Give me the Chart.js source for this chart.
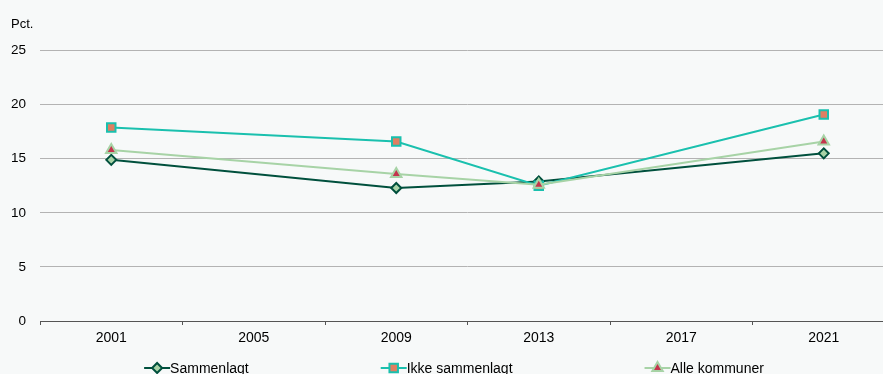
<!DOCTYPE html>
<html lang="no">
<head>
    <meta charset="UTF-8">
    <title>Sammenlagte kommuner</title>
    <script src="https://cdn.jsdelivr.net/npm/chart.js"></script>
    <style>
        html, body { margin: 0; padding: 0; background: #f7f9f9; overflow: hidden; }
        canvas { display: block; }
    </style>
</head>
<body>
<canvas id="lineChart" width="895" height="374"></canvas>
<script>
const years = ['2001', '2005', '2009', '2013', '2017', '2021'];
const sammenlagt = [14.9, null, 12.3, 12.9, null, 15.5];
const ikkeSammenlagt = [17.9, null, 16.6, 12.5, null, 19.1];
const alleKommuner = [15.8, null, 13.6, 12.6, null, 16.6];
const seriesNames = ['Sammenlagt', 'Ikke sammenlagt', 'Alle kommuner'];
const yTicks = [0, 5, 10, 15, 20, 25];

const FONT = "'Liberation Sans', Arial, sans-serif";

// legend drawn by hand: line + marker, wide gaps like the original
const legendPlugin = {
    id: 'wideLegend',
    afterDraw(chart) {
        const ctx = chart.ctx;
        const gap = 132, symW = 26, y = 368;
        ctx.save();
        ctx.font = '14px ' + FONT;
        const widths = chart.data.datasets.map(ds => symW + ctx.measureText(ds.label).width);
        const total = widths.reduce((a, b) => a + b, 0) + gap * (widths.length - 1);
        let x = 454 - total / 2;
        chart.data.datasets.forEach((ds, i) => {
            ctx.strokeStyle = ds.borderColor;
            ctx.lineWidth = 2;
            ctx.beginPath();
            ctx.moveTo(x, y);
            ctx.lineTo(x + symW, y);
            ctx.stroke();
            ctx.fillStyle = ds.pointBackgroundColor;
            ctx.strokeStyle = ds.pointBorderColor;
            ctx.lineWidth = ds.pointBorderWidth;
            Chart.helpers.drawPoint(ctx, {
                pointStyle: ds.pointStyle,
                radius: ds.pointRadius,
                borderWidth: ds.pointBorderWidth,
                rotation: 0
            }, x + symW / 2, y);
            ctx.fillStyle = '#000';
            ctx.textAlign = 'left';
            ctx.textBaseline = 'middle';
            ctx.fillText(ds.label, x + symW, y + 1);
            x += widths[i] + gap;
        });
        ctx.restore();
    }
};

const ctx = document.getElementById('lineChart').getContext('2d');
new Chart(ctx, {
    type: 'line',
    data: {
        labels: years,
        datasets: [
            {
                label: seriesNames[0],
                data: sammenlagt,
                borderColor: '#00503d',
                borderWidth: 2,
                pointStyle: 'rectRot',
                pointRadius: 5,
                pointBorderWidth: 2,
                pointBorderColor: '#00503d',
                pointBackgroundColor: '#a7d3a6',
                spanGaps: true,
                order: 3
            },
            {
                label: seriesNames[1],
                data: ikkeSammenlagt,
                borderColor: '#1ac0ae',
                borderWidth: 2,
                pointStyle: 'rect',
                pointRadius: 6,
                pointBorderWidth: 2,
                pointBorderColor: '#1ac0ae',
                pointBackgroundColor: '#e07f62',
                spanGaps: true,
                order: 2
            },
            {
                label: seriesNames[2],
                data: alleKommuner,
                borderColor: '#a7d3a6',
                borderWidth: 2,
                pointStyle: 'triangle',
                pointRadius: 6,
                pointBorderWidth: 2,
                pointBorderColor: '#a7d3a6',
                pointBackgroundColor: '#c4344d',
                spanGaps: true,
                order: 1
            }
        ]
    },
    options: {
        responsive: false,
        animation: false,
        tension: 0,
        layout: { autoPadding: false, padding: { left: 11, right: 0, top: 0, bottom: 26 } },
        plugins: {
            legend: { display: false },
            tooltip: { enabled: false },
            title: {
                display: true,
                text: 'Pct.',
                align: 'start',
                color: '#000',
                font: { family: FONT, size: 13, weight: 'normal' },
                padding: { top: 17, bottom: 18 }
            }
        },
        scales: {
            x: {
                type: 'category',
                offset: true,
                grid: {
                    offset: true,
                    drawOnChartArea: false,
                    drawTicks: true,
                    tickLength: 4,
                    color: '#555'
                },
                border: { display: true, color: '#555', width: 1 },
                ticks: {
                    color: '#000',
                    padding: 5,
                    maxRotation: 0,
                    autoSkip: false,
                    font: { family: FONT, size: 14 }
                },
                afterFit: s => { s.height = 27; }
            },
            y: {
                min: yTicks[0],
                max: yTicks[yTicks.length - 1],
                afterBuildTicks: s => { s.ticks = yTicks.map(v => ({ value: v })); },
                grid: { color: '#b3b3b3', drawTicks: false },
                border: { display: false },
                ticks: {
                    color: '#000',
                    padding: 14,
                    font: { family: FONT, size: 13.5 }
                },
                afterFit: s => { s.width = 29; }
            }
        }
    },
    plugins: [legendPlugin]
});
</script>
</body>
</html>
